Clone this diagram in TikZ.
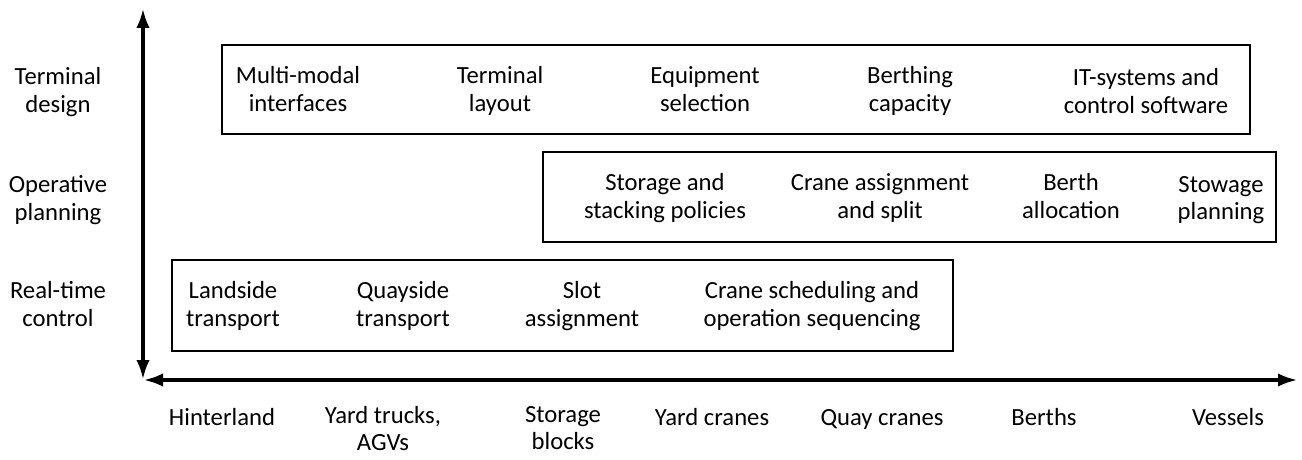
\documentclass[tikz,border=0pt]{standalone}
\usepackage{fontspec}
\setmainfont{Carlito}
\usetikzlibrary{arrows.meta}
\begin{document}
\begin{tikzpicture}[x=0.75pt,y=-0.75pt,
  axis/.style={line width=3pt,{Latex[length=15pt,width=10pt]}-{Latex[length=15pt,width=10pt]}},
  box/.style={draw,line width=1.5pt,inner sep=0pt},
  lbl/.style={align=center,font=\fontsize{18.5}{20.5}\selectfont,inner sep=0pt,
    execute at begin node=\strut,execute at end node=\strut},
  xlbl/.style={lbl,anchor=north}]
\useasboundingbox (0,0) rectangle (1302,460);

% axes
\coordinate (o) at (143,380);
\coordinate (top) at (143,8);
\coordinate (right) at (1298,380);
\draw[axis] (top) -- (o);
\draw[axis] (o) -- (right);

% level labels
\node[lbl] (lvl1) at (58,94) {Terminal\\design};
\node[lbl] (lvl2) at (58,202) {Operative\\planning};
\node[lbl] (lvl3) at (58,308) {Real-time\\control};

% frames of the three planning levels
\node[box,minimum width=771pt,minimum height=66.75pt] (td) at (736,89.5) {};
\node[box,minimum width=549.75pt,minimum height=67.5pt] (op) at (909.5,197) {};
\node[box,minimum width=585.75pt,minimum height=68.25pt] (rt) at (562.5,305.5) {};

% terminal design
\node[lbl] (t1) at (298,93) {Multi-modal\\interfaces};
\node[lbl] (t2) at (500,93) {Terminal\\layout};
\node[lbl] (t3) at (705,93) {Equipment\\selection};
\node[lbl] (t4) at (910,93) {Berthing\\capacity};
\node[lbl] (t5) at (1146,95) {IT-systems and\\control software};

% operative planning
\node[lbl] (p1) at (665,200) {Storage and\\stacking policies};
\node[lbl] (p2) at (880,200) {Crane assignment\\and split};
\node[lbl] (p3) at (1071,200) {Berth\\allocation};
\node[lbl] (p4) at (1221,202) {Stowage\\planning};

% real-time control
\node[lbl] (r1) at (233,308) {Landside\\transport};
\node[lbl] (r2) at (403,308) {Quayside\\transport};
\node[lbl] (r3) at (582,308) {Slot\\assignment};
\node[lbl] (r4) at (812,308) {Crane scheduling and\\operation sequencing};

% terminal areas along the horizontal axis
\node[xlbl] (a1) at (222,406) {Hinterland};
\node[xlbl] (a2) at (383,406) {Yard trucks,\\AGVs};
\node[xlbl] (a3) at (563,406) {Storage\\blocks};
\node[xlbl] (a4) at (712,406) {Yard cranes};
\node[xlbl] (a5) at (882,406) {Quay cranes};
\node[xlbl] (a6) at (1044,406) {Berths};
\node[xlbl] (a7) at (1228,406) {Vessels};
\end{tikzpicture}
\end{document}
